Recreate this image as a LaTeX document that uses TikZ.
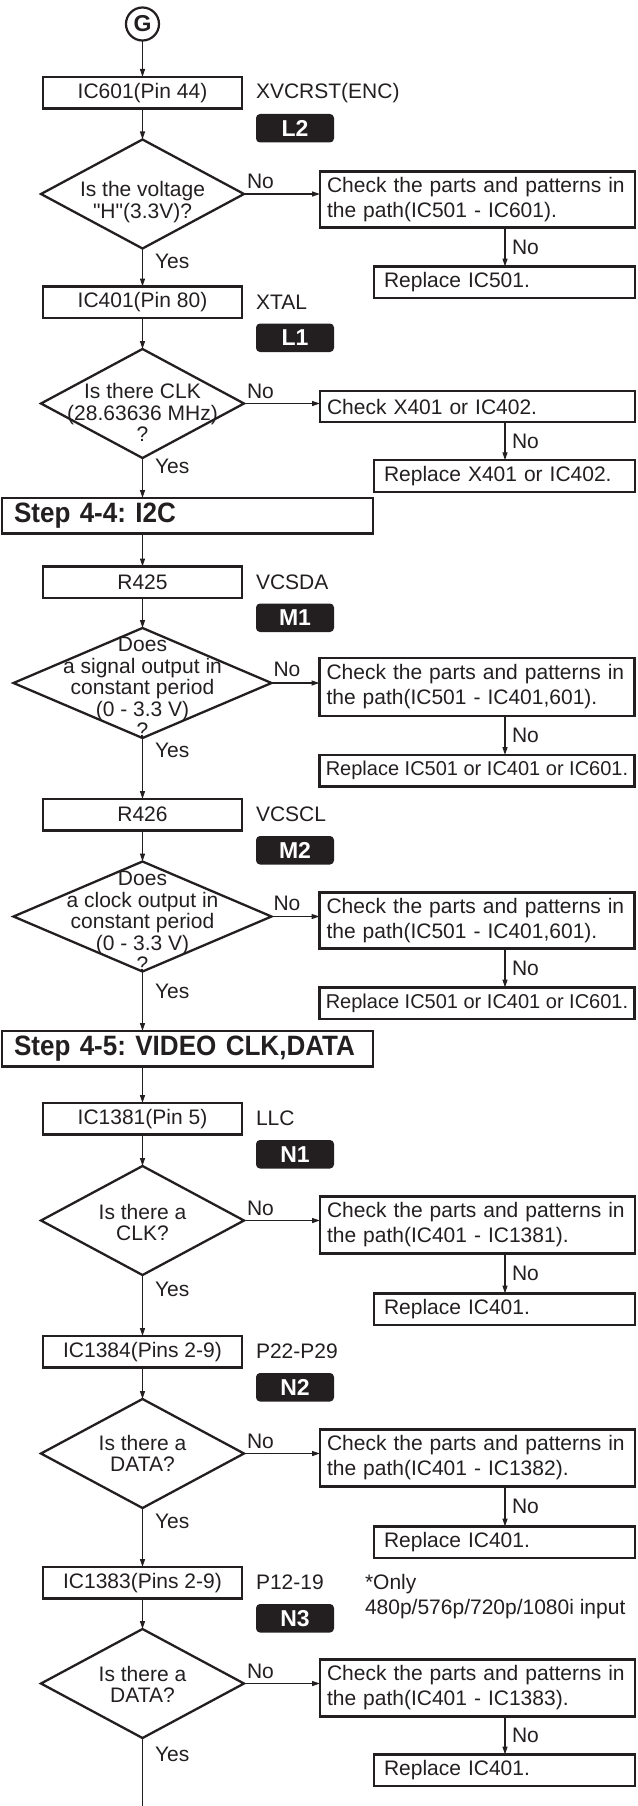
\documentclass[tikz,border=0pt]{standalone}
\usepackage{fontspec}
\usepackage{tikz}
\usetikzlibrary{arrows.meta,positioning,shapes.geometric}

\newfontfamily\libsans{Liberation Sans}
\newfontfamily\libnarrow{Liberation Sans}[FakeStretch=0.93]
\newcommand\ftxt{\libsans\fontsize{21pt}{25pt}\selectfont}
\newcommand\fnarrow{\libsans\fontsize{20pt}{25pt}\selectfont}
\newcommand\fask{\libsans\fontsize{21pt}{21.5pt}\selectfont}
\newcommand\fstep{\libnarrow\bfseries\fontsize{28pt}{30pt}\selectfont}
\newcommand\fbadge{\libsans\bfseries\fontsize{23pt}{25pt}\selectfont}
\definecolor{ink}{HTML}{231F20}
\frenchspacing

\begin{document}
\begin{tikzpicture}[
  x=1pt, y=1pt, ink,
  every node/.style={outer sep=0pt},
  ring/.style={circle, draw, line width=2.2pt, minimum size=33pt, inner sep=0pt, font=\fbadge},
  probe/.style={draw, line width=2.3pt, minimum width=199pt, minimum height=31.5pt, inner sep=0pt, font=\ftxt},
  ask/.style={diamond, draw, line width=2.3pt, inner sep=0pt, minimum width=203pt, minimum height=109pt},
  askwide/.style={ask, minimum width=258pt, minimum height=110pt},
  asktext/.style={font=\fask, align=center, inner sep=0pt},
  check/.style={draw, line width=2.3pt, text width=301pt, inner xsep=7pt, inner ysep=0pt, minimum height=56pt, align=left, font=\ftxt},
  fix/.style={draw, line width=2.3pt, text width=241pt, inner xsep=10pt, inner ysep=0pt, minimum height=31.5pt, align=left, font=\ftxt},
  fixwide/.style={draw, line width=2.3pt, minimum width=315pt, minimum height=31.5pt, inner xsep=2pt, inner ysep=0pt, font=\fnarrow},
  stepbar/.style={draw, line width=2.5pt, text width=347pt, inner xsep=12pt, inner ysep=0pt, minimum height=35.5pt, align=left, font=\fstep},
  badge/.style={fill, rounded corners=4pt, text=white, minimum width=78pt, minimum height=28.5pt, inner sep=0pt, font=\fbadge},
  tag/.style={inner sep=0pt, font=\ftxt},
  arr/.style={-{Triangle[length=8pt, width=5pt]}, line width=1.2pt},
  wire/.style={line width=1.2pt}
]
  \useasboundingbox (0,0) rectangle (637,-1806);
  \coordinate (drop) at (505,0);

  \node[ring] (g) at (142.5,-24) {G};
  \node[probe, below=36.5pt of g] (ic601) {IC601(Pin 44)};
  \node[tag, right=14pt of ic601] (xvcrst) {XVCRST(ENC)};
  \node[badge, below right=5.5pt and 14pt of ic601.south east] (l2) {L2};
  \node[ask, below=31pt of ic601, label={[asktext, yshift=-8pt]center:{Is the voltage\\"H"(3.3V)?}}] (q1) {};
  \node[check, right=76pt of q1, yshift=-5.5pt] (chk1) {Check the parts and patterns in\\the path(IC501 - IC601).};
  \node[fix, below=39pt of chk1.south east, anchor=north east] (rep1) {Replace IC501.};

  \node[probe, below=38pt of q1] (ic401) {IC401(Pin 80)};
  \node[tag, right=14pt of ic401] (xtal) {XTAL};
  \node[badge, below right=5.5pt and 14pt of ic401.south east] (l1) {L1};
  \node[ask, below=31pt of ic401, label={[asktext, yshift=-9pt]center:{Is there CLK\\(28.63636 MHz)\\?}}] (q2) {};
  \node[check, minimum height=31.5pt, right=76pt of q2, yshift=-3pt] (chk2) {Check X401 or IC402.};
  \node[fix, below=38pt of chk2.south east, anchor=north east] (rep2) {Replace X401 or IC402.};

  \node[stepbar, below=40pt of q2, xshift=45pt] (step44) {Step 4-4: I2C};

  \node[probe, below=33pt of step44, xshift=-45pt] (r425) {R425};
  \node[tag, right=14pt of r425] (vcsda) {VCSDA};
  \node[badge, below right=5.5pt and 14pt of r425.south east] (m1) {M1};
  \node[askwide, below=30pt of r425, label={[asktext, yshift=-4.5pt]center:{Does\\a signal output in\\constant period\\(0 - 3.3 V)\\?}}] (q3) {};
  \node[check, minimum height=58pt, right=48pt of q3, yshift=-4pt] (chk3) {Check the parts and patterns in\\the path(IC501 - IC401,601).};
  \node[fixwide, below=39pt of chk3.south east, anchor=north east] (rep3) {Replace IC501 or IC401 or IC601.};

  \node[probe, below=61pt of q3] (r426) {R426};
  \node[tag, right=14pt of r426] (vcscl) {VCSCL};
  \node[badge, below right=5.5pt and 14pt of r426.south east] (m2) {M2};
  \node[askwide, below=31pt of r426, label={[asktext, yshift=-5pt]center:{Does\\a clock output in\\constant period\\(0 - 3.3 V)\\?}}] (q4) {};
  \node[check, right=48pt of q4, yshift=-4pt] (chk4) {Check the parts and patterns in\\the path(IC501 - IC401,601).};
  \node[fixwide, below=39pt of chk4.south east, anchor=north east] (rep4) {Replace IC501 or IC401 or IC601.};

  \node[stepbar, below=59.5pt of q4, xshift=45pt] (step45) {Step 4-5: VIDEO CLK,DATA};

  \node[probe, below=36.5pt of step45, xshift=-45pt] (ic1381) {IC1381(Pin 5)};
  \node[tag, right=14pt of ic1381] (llc) {LLC};
  \node[badge, below right=5.5pt and 14pt of ic1381.south east] (n1) {N1};
  \node[ask, below=31.5pt of ic1381, label={[asktext, yshift=-2pt]center:{Is there a\\CLK?}}] (q5) {};
  \node[check, minimum height=57pt, right=76pt of q5, yshift=-4.5pt] (chk5) {Check the parts and patterns in\\the path(IC401 - IC1381).};
  \node[fix, below=40pt of chk5.south east, anchor=north east] (rep5) {Replace IC401.};

  \node[probe, below=61pt of q5] (ic1384) {IC1384(Pins 2-9)};
  \node[tag, right=14pt of ic1384] (p2229) {P22-P29};
  \node[badge, below right=5.5pt and 14pt of ic1384.south east] (n2) {N2};
  \node[ask, below=31.5pt of ic1384, label={[asktext]center:{Is there a\\DATA?}}] (q6) {};
  \node[check, minimum height=57pt, right=76pt of q6, yshift=-4.5pt] (chk6) {Check the parts and patterns in\\the path(IC401 - IC1382).};
  \node[fix, below=40pt of chk6.south east, anchor=north east] (rep6) {Replace IC401.};

  \node[probe, below=59pt of q6] (ic1383) {IC1383(Pins 2-9)};
  \node[tag, right=14pt of ic1383] (p1219) {P12-19};
  \node[tag, align=left, below right=7pt and 123pt of ic1383.north east] (only) {*Only\\480p/576p/720p/1080i input};
  \node[badge, below right=5.5pt and 14pt of ic1383.south east] (n3) {N3};
  \node[ask, below=30.5pt of ic1383, label={[asktext, yshift=-1pt]center:{Is there a\\DATA?}}] (q7) {};
  \node[check, minimum height=57pt, right=76pt of q7, yshift=-4.5pt] (chk7) {Check the parts and patterns in\\the path(IC401 - IC1383).};
  \node[fix, below=38pt of chk7.south east, anchor=north east] (rep7) {Replace IC401.};
  \coordinate[below=68pt of q7.south] (tail);

  \draw[arr] (g) -- (ic601);
  \draw[arr] (ic601) -- (q1);
  \draw[arr] (q1.east) -- node[tag, pos=0, above right=5pt and 3pt] {No} (q1.east -| chk1.west);
  \draw[arr] (chk1.south -| drop) -- node[tag, right=7pt] {No} (rep1.north -| drop);
  \draw[arr] (q1) -- node[tag, pos=0, below right=6pt and 12.5pt] {Yes} (ic401);
  \draw[arr] (ic401) -- (q2);
  \draw[arr] (q2.east) -- node[tag, pos=0, above right=5pt and 3pt] {No} (q2.east -| chk2.west);
  \draw[arr] (chk2.south -| drop) -- node[tag, right=7pt] {No} (rep2.north -| drop);
  \draw[arr] (q2) -- node[tag, pos=0, below right=1pt and 12.5pt] {Yes} (q2.south |- step44.north);
  \draw[arr] (step44.south -| r425) -- (r425);
  \draw[arr] (r425) -- (q3);
  \draw[arr] (q3.east) -- node[tag, pos=0, above right=6pt and 2pt] {No} (q3.east -| chk3.west);
  \draw[arr] (chk3.south -| drop) -- node[tag, right=7pt] {No} (rep3.north -| drop);
  \draw[arr] (q3) -- node[tag, pos=0, below right=5pt and 12.5pt] {Yes} (r426);
  \draw[arr] (r426) -- (q4);
  \draw[arr] (q4.east) -- node[tag, pos=0, above right=6pt and 2pt] {No} (q4.east -| chk4.west);
  \draw[arr] (chk4.south -| drop) -- node[tag, right=7pt] {No} (rep4.north -| drop);
  \draw[arr] (q4) -- node[tag, pos=0, below right=13pt and 12.5pt] {Yes} (q4.south |- step45.north);
  \draw[arr] (step45.south -| ic1381) -- (ic1381);
  \draw[arr] (ic1381) -- (q5);
  \draw[arr] (q5.east) -- node[tag, pos=0, above right=5pt and 3pt] {No} (q5.east -| chk5.west);
  \draw[arr] (chk5.south -| drop) -- node[tag, right=7pt] {No} (rep5.north -| drop);
  \draw[arr] (q5) -- node[tag, pos=0, below right=7pt and 12.5pt] {Yes} (ic1384);
  \draw[arr] (ic1384) -- (q6);
  \draw[arr] (q6.east) -- node[tag, pos=0, above right=5pt and 3pt] {No} (q6.east -| chk6.west);
  \draw[arr] (chk6.south -| drop) -- node[tag, right=7pt] {No} (rep6.north -| drop);
  \draw[arr] (q6) -- node[tag, pos=0, below right=6pt and 12.5pt] {Yes} (ic1383);
  \draw[arr] (ic1383) -- (q7);
  \draw[arr] (q7.east) -- node[tag, pos=0, above right=5pt and 3pt] {No} (q7.east -| chk7.west);
  \draw[arr] (chk7.south -| drop) -- node[tag, right=7pt] {No} (rep7.north -| drop);
  \draw[wire] (q7) -- node[tag, pos=0, below right=9pt and 12.5pt] {Yes} (tail);
\end{tikzpicture}
\end{document}
